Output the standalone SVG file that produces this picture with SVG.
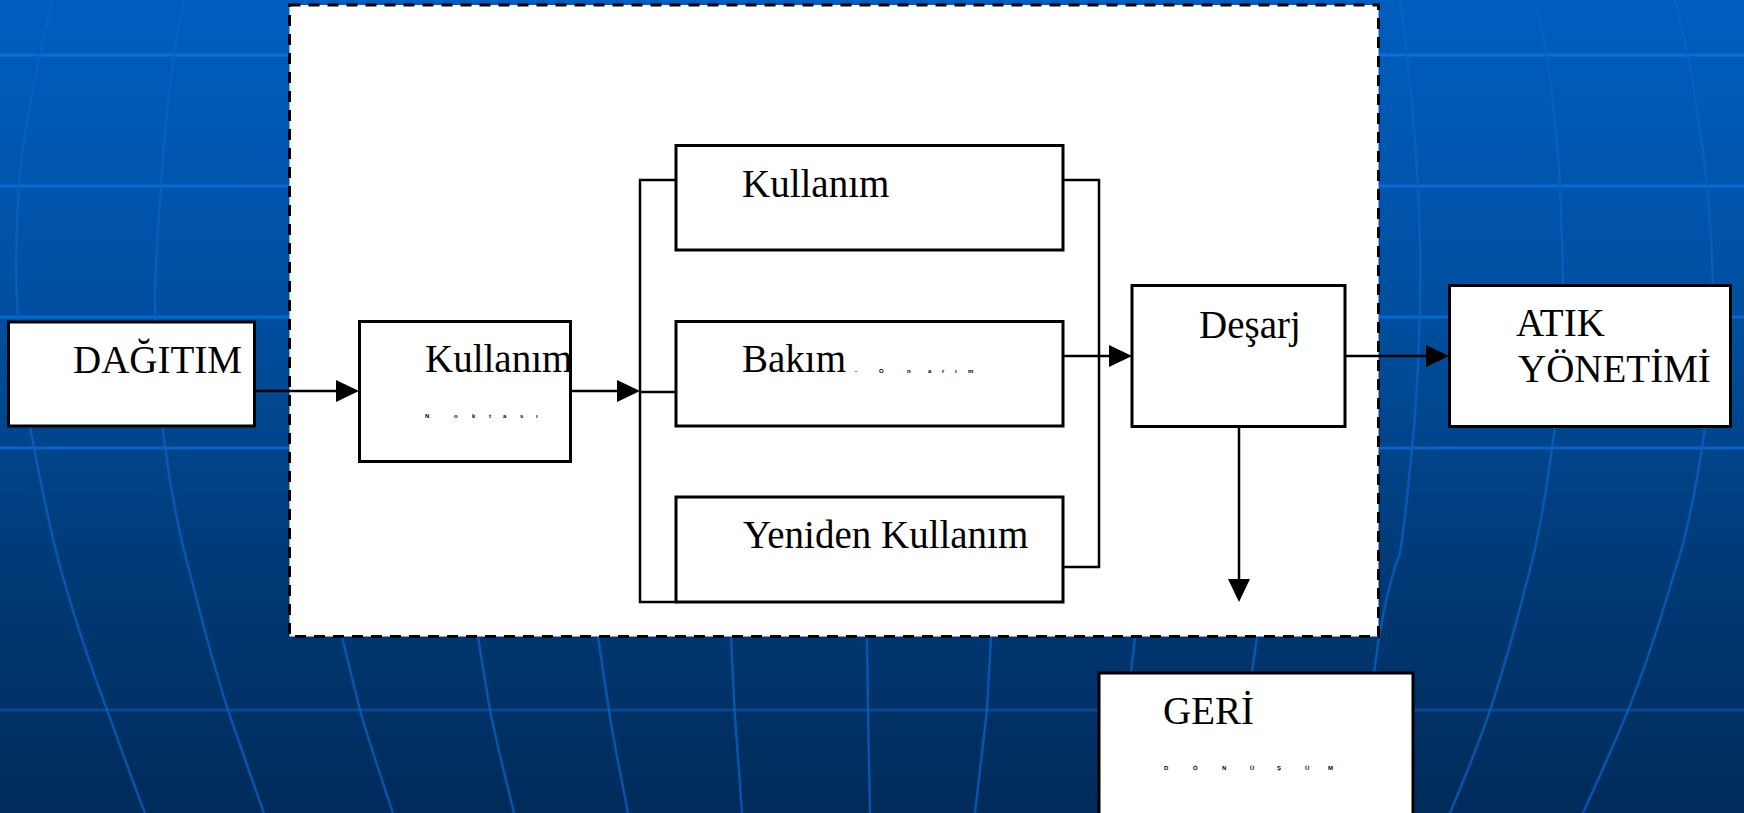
<svg xmlns="http://www.w3.org/2000/svg" width="1744" height="813" viewBox="0 0 1744 813">
<defs>
<linearGradient id="bg" x1="0" y1="0" x2="0" y2="1">
<stop offset="0" stop-color="#005EBF"/>
<stop offset="0.4" stop-color="#004E9E"/>
<stop offset="0.7" stop-color="#003A76"/>
<stop offset="1" stop-color="#002B5A"/>
</linearGradient>
<style>
.mer{fill:none;stroke:#0A62C4;stroke-width:2.5;stroke-opacity:0.75}
.box{fill:#fff;stroke:#000;stroke-width:3}
.ln{fill:none;stroke:#000;stroke-width:2.5}
.ah{fill:#000}
.t{font-family:"Liberation Serif","Times New Roman",serif;font-size:39px;fill:#000}
.s{font-family:"Liberation Sans",Arial,sans-serif;font-size:6px;font-weight:bold;fill:#000}
</style>
</defs>
<g id="background">
<rect x="0" y="0" width="1744" height="813" fill="url(#bg)"/>
<line x1="0" y1="55" x2="1744" y2="55" stroke="#0A6EDC" stroke-width="3"/>
<line x1="0" y1="186" x2="1744" y2="186" stroke="#0A6AD6" stroke-width="3"/>
<line x1="0" y1="317" x2="1744" y2="317" stroke="#0A66D0" stroke-width="3"/>
<line x1="0" y1="448" x2="1744" y2="448" stroke="#0A63C8" stroke-width="3"/>
<line x1="0" y1="710" x2="1744" y2="710" stroke="#0A4890" stroke-width="3"/>
<path class="mer" d="M52,0 C40,50 22,140 19,186 C15,240 16,290 17,300 C20,360 24,400 30,427 C40,480 52,540 63,577 C78,630 92,670 107,710 C120,745 132,780 145,813"/>
<path class="mer" d="M184,0 C180,20 176,40 174,55 C168,100 163,150 161,186 C158,230 155,270 155,300 C156,360 160,410 165,447 C172,500 182,545 191,577 C203,625 215,670 228,710 C240,745 252,780 264,813"/>
<path class="mer" d="M342,637 C348,662 354,686 360,710 C370,745 382,780 393,813"/>
<path class="mer" d="M478,637 C482,662 486,686 490,710 C497,745 506,780 514,813"/>
<path class="mer" d="M598,637 C602,662 605,686 609,710 C614,745 622,780 628,813"/>
<path class="mer" d="M731,637 L734.5,710 L742,813"/>
<path class="mer" d="M867,637 L868,710 L870,813"/>
<path class="mer" d="M991,637 L987,710 L975,813"/>
<path class="mer" d="M1135,637 L1128,700"/>
<path class="mer" d="M1257,637 L1248,700"/>
<path class="mer" d="M1400,0 C1403,20 1405,40 1407,55 C1412,100 1416,150 1418,186 C1420,230 1421,270 1420,300 C1419,360 1416,410 1412,448 C1408,490 1404,530 1400,553 C1396,565 1394,570 1392,577 C1386,600 1382,620 1379,637 C1376,660 1372,690 1368,710"/>
<path class="mer" d="M1535,0 C1540,20 1544,40 1547,55 C1553,100 1558,150 1560,186 C1562,230 1563,270 1563,300 C1562,360 1558,410 1552,448 C1545,500 1537,545 1528,577 C1516,625 1503,670 1491,708 C1478,745 1464,780 1450,813"/>
<path class="mer" d="M1675,0 C1680,20 1684,40 1688,55 C1696,100 1703,150 1707,186 C1711,230 1713,270 1713,300 C1712,360 1708,410 1702,448 C1694,500 1684,545 1673,577 C1659,625 1644,670 1629,708 C1614,745 1598,780 1583,813"/>
</g>
<g id="system-boundary">
<rect x="289.5" y="5" width="1089" height="631.5" fill="#fff" stroke="#000" stroke-width="3" stroke-dasharray="11 8"/>
</g>
<g id="connectors">
<line class="ln" x1="255" y1="391" x2="337" y2="391"/>
<polygon class="ah" points="336,380 359,391 336,402"/>
<line class="ln" x1="571" y1="391" x2="618" y2="391"/>
<polygon class="ah" points="617,380 640,391 617,402"/>
<polyline class="ln" points="676,180 640,180 640,602 676,602"/>
<line class="ln" x1="640" y1="392" x2="676" y2="392"/>
<polyline class="ln" points="1063,180 1099,180 1099,567 1063,567"/>
<line class="ln" x1="1063" y1="356" x2="1110" y2="356"/>
<polygon class="ah" points="1109,345 1132,356 1109,367"/>
<line class="ln" x1="1345" y1="356" x2="1427" y2="356"/>
<polygon class="ah" points="1426,345 1449,356 1426,367"/>
<line class="ln" x1="1239" y1="427" x2="1239" y2="580"/>
<polygon class="ah" points="1228,579 1250,579 1239,602"/>
</g>
<g id="dagitim">
<rect class="box" x="8.5" y="322" width="246" height="104"/>
<text class="t" x="73" y="373">DAĞITIM</text>
</g>
<g id="kullanim-noktasi">
<rect class="box" x="359.5" y="321.5" width="211" height="140"/>
<text class="t" x="425" y="372">Kullanım</text>
<text class="s" x="425 454 472 489 503 520 536" y="418">Noktası</text>
</g>
<g id="kullanim">
<rect class="box" x="676" y="145.5" width="387" height="104.5"/>
<text class="t" x="742" y="197">Kullanım</text>
</g>
<g id="bakim">
<rect class="box" x="676" y="321.5" width="387" height="104.5"/>
<text class="t" x="742" y="372">Bakım</text>
<text class="s" x="855 879 907 928 942 955 968" y="373">-Onarım</text>
</g>
<g id="yeniden-kullanim">
<rect class="box" x="676" y="497" width="387" height="105"/>
<text class="t" x="743" y="548">Yeniden Kullanım</text>
</g>
<g id="desarj">
<rect class="box" x="1132" y="285.5" width="213" height="141"/>
<text class="t" x="1199" y="338">Deşarj</text>
</g>
<g id="atik-yonetimi">
<rect class="box" x="1449.5" y="285.5" width="281" height="141"/>
<text class="t" x="1516" y="336">ATIK</text>
<text class="t" x="1518" y="382">YÖNETİMİ</text>
</g>
<g id="geri-donusum">
<rect class="box" x="1099" y="673" width="314" height="145"/>
<text class="t" x="1163" y="724">GERİ</text>
<text class="s" x="1164 1193 1222 1250 1277 1305 1328" y="770">DÖNÜŞÜM</text>
</g>
</svg>
